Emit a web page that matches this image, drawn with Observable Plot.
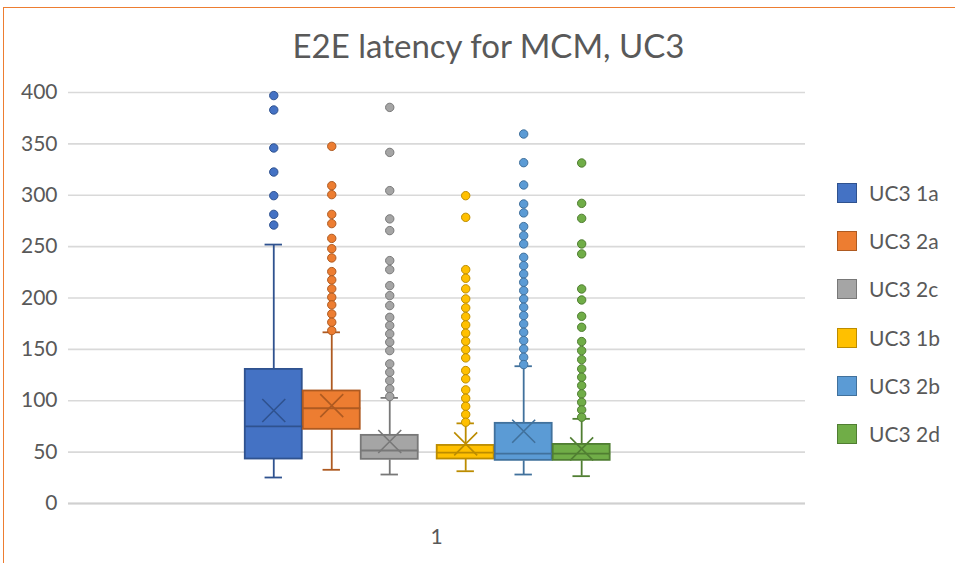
<!DOCTYPE html>
<html>
<head>
<meta charset="utf-8">
<script src="https://cdn.jsdelivr.net/npm/d3@7"></script>
<script src="https://cdn.jsdelivr.net/npm/@observablehq/plot@0.6"></script>
<style>
  html, body { margin: 0; padding: 0; background: #fff; }
  #chart { position: relative; width: 955px; height: 563px; overflow: hidden; font-family: Lato, "Open Sans", sans-serif; color: #595959; }
  #frame { position: absolute; left: 3px; top: 7px; width: 1200px; height: 800px; border-top: 1.5px solid #ED7D31; border-left: 1.5px solid #ED7D31; pointer-events: none; }
  #title { height: 62px; text-align: center; font-size: 33px; line-height: 62px; padding-top: 14px; box-sizing: border-box; padding-left: 22px; }
  #legend { position: absolute; left: 837px; top: 183px; }
  .item { position: absolute; left: 0; width: 120px; height: 22px; }
  .sw { position: absolute; left: 0; top: 0; width: 18px; height: 18px; border: 1.5px solid; }
  .lb { position: absolute; left: 32px; top: -3px; font-size: 21px; white-space: nowrap; }
</style>
</head>
<body>
<div id="chart">
  <div id="frame"></div>
  <div id="title">E2E latency for MCM, UC3</div>
  <div id="legend"></div>
</div>
<script>
// Latency distributions per configuration (ms)
const categories = ["1"];
const series = ["UC3 1a", "UC3 2a", "UC3 2c", "UC3 1b", "UC3 2b", "UC3 2d"];
const q1 = [42.8, 71.7, 42.5, 42.8, 41.5, 41.5];
const median = [75, 92.7, 51.6, 49.6, 48.6, 48.6];
const q3 = [131, 110, 66.8, 57, 78.5, 58];
const mean = [90.5, 95.3, 60.3, 58, 70.3, 53.2];
const whiskerLow = [25.3, 32.8, 28.2, 31.4, 28.2, 26.6];
const whiskerHigh = [252, 166.6, 102.8, 78, 133.6, 82.4];

const outliers1a = [397, 383, 346, 322.6, 299.6, 281.4, 271];
const outliers2a = [347.6, 309.3, 300.6, 281.4, 272.4, 258, 248, 239, 225.7, 217.6, 208.9, 200.7, 193.3, 184.5, 176.4, 168.3];
const outliers2c = [385.5, 341.7, 304.5, 277, 265.6, 236.4, 227.6, 212, 202.3, 192.6, 181.2, 173.2, 165.1, 157, 148.8, 135.9, 127.7, 119.6, 111.6, 104.1];
const outliers1b = [299.6, 278.5, 227.6, 219.2, 208.9, 199.1, 190.4, 181.9, 173.8, 165.7, 157.9, 149.8, 141.7, 129.4, 121.3, 110.6, 102.4, 94.6, 86.6, 79.1];
const outliers2b = [359.6, 331.7, 310, 291.5, 282.8, 269.5, 260.7, 252.6, 239.6, 231.5, 223.4, 215.3, 207.2, 199.1, 191, 182.9, 174.8, 166.6, 158.6, 150.5, 142.3, 135.2];
const outliers2d = [331.4, 292.1, 277.5, 252.6, 242.9, 208.8, 198.1, 182.2, 171.5, 157.6, 148.8, 140, 131, 122.9, 114.8, 106.7, 98.5, 91.1, 84];
const outliers = [outliers1a, outliers2a, outliers2c, outliers1b, outliers2b, outliers2d];

const yTicks = [0, 50, 100, 150, 200, 250, 300, 350, 400];

// Office palette: fills and their darker outlines
const fills = ["#4472C4", "#ED7D31", "#A5A5A5", "#FFC000", "#5B9BD5", "#70AD47"];
const strokes = ["#2F528F", "#AE5A21", "#787878", "#BC8C00", "#41719C", "#507E32"];

// Horizontal layout in box-width units: each series occupies one slot
const slotPos = [0, 1, 2, 3.31, 4.31, 5.31];
const xDomain = [-3.54, 9.17];
const categoryCenter = 2.81;
const capHalf = 0.15;

const boxes = series.map((s, i) => ({
  s, i, x: slotPos[i],
  q1: q1[i], med: median[i], q3: q3[i], mean: mean[i],
  lo: whiskerLow[i], hi: whiskerHigh[i]
}));
const points = series.flatMap((s, i) => outliers[i].map(v => ({s, i, x: slotPos[i], v})));

const fillOf = d => fills[d.i];
const strokeOf = d => strokes[d.i];

const plot = Plot.plot({
  width: 955,
  height: 501,
  marginTop: 30,
  marginBottom: 60,
  marginLeft: 68,
  marginRight: 150,
  style: { fontFamily: "Lato, 'Open Sans', sans-serif", fontSize: "21px", color: "#595959", background: "transparent", overflow: "visible" },
  x: { type: "linear", domain: xDomain },
  y: { domain: [0, 400] },
  marks: [
    Plot.gridY(yTicks, { stroke: "#d9d9d9", strokeOpacity: 1, strokeWidth: 1.6 }),
    Plot.ruleY([0], { stroke: "#d0d0d0", strokeWidth: 1.8 }),
    Plot.axisY(yTicks, { tickSize: 0, tickPadding: 11, fontSize: 21, label: null }),
    Plot.axisX([categoryCenter], { tickSize: 0, tickPadding: 26, fontSize: 21, tickFormat: () => categories[0], label: null }),
    // whiskers
    Plot.ruleX(boxes, { x: "x", y1: "lo", y2: "q1", stroke: strokeOf, strokeWidth: 1.8 }),
    Plot.ruleX(boxes, { x: "x", y1: "q3", y2: "hi", stroke: strokeOf, strokeWidth: 1.8 }),
    Plot.ruleY(boxes, { y: "lo", x1: d => d.x - capHalf, x2: d => d.x + capHalf, stroke: strokeOf, strokeWidth: 1.8 }),
    Plot.ruleY(boxes, { y: "hi", x1: d => d.x - capHalf, x2: d => d.x + capHalf, stroke: strokeOf, strokeWidth: 1.8 }),
    // boxes
    Plot.rectY(boxes, { x1: d => d.x - 0.5, x2: d => d.x + 0.5, y1: "q1", y2: "q3", fill: fillOf, stroke: strokeOf, strokeWidth: 1.8, inset: 0.5 }),
    Plot.ruleY(boxes, { y: "med", x1: d => d.x - 0.5, x2: d => d.x + 0.5, stroke: strokeOf, strokeWidth: 1.8 }),
    Plot.dot(boxes, { x: "x", y: "mean", symbol: "times", r: 10.5, stroke: strokeOf, strokeWidth: 1.6 }),
    // outliers
    Plot.dot(points, { x: "x", y: "v", r: 4.2, fill: fillOf, stroke: strokeOf, strokeWidth: 1 })
  ]
});
document.getElementById("chart").insertBefore(plot, document.getElementById("legend"));

// legend
const legend = document.getElementById("legend");
series.forEach((s, i) => {
  const item = document.createElement("div");
  item.className = "item";
  item.style.top = (i * 48.2) + "px";
  const sw = document.createElement("div");
  sw.className = "sw";
  sw.style.background = fills[i];
  sw.style.borderColor = strokes[i];
  const lb = document.createElement("div");
  lb.className = "lb";
  lb.textContent = s;
  item.appendChild(sw);
  item.appendChild(lb);
  legend.appendChild(item);
});
</script>
</body>
</html>
